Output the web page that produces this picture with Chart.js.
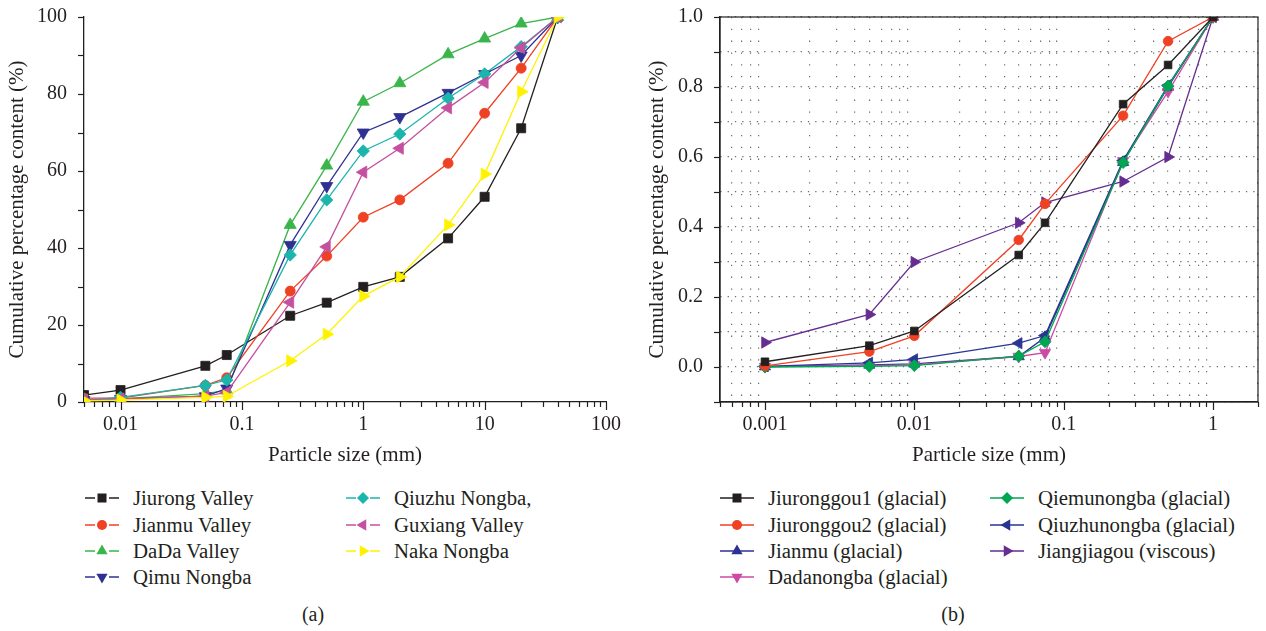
<!DOCTYPE html>
<html><head><meta charset="utf-8">
<script src="https://cdn.jsdelivr.net/npm/chart.js@4"></script>
<style>
body{margin:0;background:#fff;width:1266px;height:631px;position:relative;overflow:hidden;font-family:"Liberation Serif",serif;color:#231f20}
canvas{position:absolute;top:0}
#c1{left:0}
#c2{left:640px}
.leg{position:absolute;font-size:20.8px}
.item{position:absolute;height:26px;display:flex;align-items:center;white-space:nowrap}
.item svg{position:absolute;top:6px}
.item span{position:absolute;top:0;line-height:26px}
.cap{position:absolute;font-size:20px;transform:translate(-50%,-50%)}
</style></head>
<body>
<canvas id="c1" width="640" height="470"></canvas>
<canvas id="c2" width="626" height="470"></canvas>
<div id="legA"></div>
<div id="legB"></div>
<div class="cap" style="left:313px;top:614px">(a)</div>
<div class="cap" style="left:953px;top:614px">(b)</div>
<script>
// ---------- data (a) ----------
const sizesA = [0.005, 0.01, 0.05, 0.075, 0.25, 0.5, 1, 2, 5, 10, 20, 40];
const jiurongValley = [1.8, 3.1, 9.4, 12.2, 22.4, 25.8, 29.9, 32.5, 42.5, 53.3, 71.1, 100];
const jianmuValley  = [1.0, 1.0, 4.3, 6.3, 28.8, 37.9, 48.0, 52.5, 62.0, 75.0, 86.7, 100];
const dadaValley    = [0.5, 0.8, 2.2, 3.0, 46.0, 61.4, 78.0, 82.8, 90.3, 94.4, 98.3, 100];
const qimuNongba    = [0.5, 0.8, 1.5, 3.5, 40.8, 56.1, 70.0, 74.0, 80.3, 85.2, 90.0, 100];
const qiuzhuNongba  = [0.5, 1.2, 4.3, 5.7, 38.2, 52.5, 65.2, 69.6, 78.9, 85.2, 92.3, 100];
const guxiangValley = [0.5, 0.8, 1.5, 2.5, 25.9, 40.3, 59.7, 65.9, 76.4, 83.0, 92.0, 100];
const nakaNongba    = [0.3, 0.5, 1.2, 1.5, 10.7, 17.6, 27.5, 32.5, 46.0, 59.2, 80.6, 100];
const namesA = ["Jiurong Valley", "Jianmu Valley", "DaDa Valley", "Qimu Nongba", "Qiuzhu Nongba,", "Guxiang Valley", "Naka Nongba"];
const xMajorA = [0.01, 0.1, 1, 10, 100];
const xLabelsA = ["0.01", "0.1", "1", "10", "100"];
const yLabelsA = ["0", "20", "40", "60", "80", "100"];

// ---------- data (b) ----------
const sizesB = [0.001, 0.005, 0.01, 0.05, 0.075, 0.25, 0.5, 1];
const jiuronggou1  = [0.015, 0.061, 0.103, 0.320, 0.412, 0.751, 0.863, 1.0];
const jiuronggou2  = [0.003, 0.044, 0.089, 0.363, 0.466, 0.718, 0.931, 1.0];
const jianmuGlac   = [0.001, 0.006, 0.009, 0.030, 0.085, 0.585, 0.800, 1.0];
const dadanongba   = [0.001, 0.004, 0.006, 0.030, 0.041, 0.589, 0.787, 1.0];
const qiemunongba  = [0.000, 0.002, 0.004, 0.031, 0.072, 0.584, 0.803, 1.0];
const qiuzhunongba = [0.002, 0.012, 0.022, 0.068, 0.090, 0.590, 0.805, 1.0];
const jiangjiagou  = [0.070, 0.150, 0.300, 0.412, 0.470, 0.530, 0.600, 1.0];
const namesB = ["Jiuronggou1 (glacial)", "Jiuronggou2 (glacial)", "Jianmu (glacial)", "Dadanongba (glacial)", "Qiemunongba (glacial)", "Qiuzhunongba (glacial)", "Jiangjiagou (viscous)"];
const xMajorB = [0.001, 0.01, 0.1, 1];
const xLabelsB = ["0.001", "0.01", "0.1", "1"];
const yLabelsB = ["0.0", "0.2", "0.4", "0.6", "0.8", "1.0"];

const INK = "#231f20";
const FONT = "'Liberation Serif', serif";

function logTicks(min, max) {
  const out = [];
  for (let e = -4; e <= 2; e++) for (let m = 1; m <= 9; m++) {
    const v = parseFloat((m * Math.pow(10, e)).toPrecision(6));
    if (v >= min * 0.999999 && v <= max * 1.000001) out.push({value: v, major: m === 1});
  }
  return out;
}
function findLabel(v, majors, labels) {
  const i = majors.findIndex(m => Math.abs(m - v) < m * 1e-6);
  return i >= 0 ? labels[i] : "";
}

function ds(label, xs, ys, color, style, rot, r, idx, n) {
  return {label, data: xs.map((x, i) => ({x, y: ys[i]})), borderColor: color, backgroundColor: color,
    pointStyle: style, pointRotation: rot, pointRadius: r, pointBorderWidth: 0.8, pointBorderColor: color,
    borderWidth: 1.3, tension: 0, order: n - idx};
}

const tickPlugin = {
  id: "ticksDraw",
  afterDraw(chart, args, opts) {
    const ctx = chart.ctx, xs = chart.scales.x, ys = chart.scales.y, ca = chart.chartArea;
    ctx.save();
    ctx.strokeStyle = INK; ctx.lineWidth = 1.2;
    if (opts.box) ctx.strokeRect(ca.left, ca.top, ca.right - ca.left, ca.bottom - ca.top);
    xs.ticks.forEach(t => {
      const px = Math.round(xs.getPixelForValue(t.value)) + 0.5;
      ctx.beginPath(); ctx.moveTo(px, ca.bottom); ctx.lineTo(px, ca.bottom + (t.major ? 8 : 5)); ctx.stroke();
    });
    ys.ticks.forEach(t => {
      const py = Math.round(ys.getPixelForValue(t.value)) + 0.5;
      ctx.beginPath(); ctx.moveTo(ca.left, py); ctx.lineTo(ca.left - 6, py); ctx.stroke();
    });
    ctx.restore();
  }
};
function fitX(s) { s.height = 68; s.paddingLeft = 0; s.paddingRight = 0; }
function fitY(w) { return s => { s.width = w; s.paddingTop = 0; s.paddingBottom = 0; }; }

// ---------- chart (a) ----------
const colA = ["#231f20", "#ef4123", "#39b54a", "#2e3192", "#1bb5ac", "#c4509f", "#fff200"];
const styA = [["rect", 0, 6.4], ["circle", 0, 5], ["triangle", 0, 7], ["triangle", 180, 7], ["rectRot", 0, 6.2], ["triangle", 270, 7], ["triangle", 90, 7]];
const serA = [jiurongValley, jianmuValley, dadaValley, qimuNongba, qiuzhuNongba, guxiangValley, nakaNongba];

new Chart(document.getElementById("c1"), {
  type: "line",
  data: {datasets: serA.map((s, i) => ds(namesA[i], sizesA, s, colA[i], styA[i][0], styA[i][1], styA[i][2], i, serA.length))},
  options: {
    responsive: false, animation: false, events: [],
    layout: {padding: {left: 0, top: 17, right: 34, bottom: 0}},
    plugins: {legend: {display: false}, tooltip: {enabled: false}, ticksDraw: {box: false}},
    scales: {
      x: {type: "logarithmic", min: 0.005, max: 100,
        afterBuildTicks: s => { s.ticks = logTicks(0.005, 100); },
        afterFit: fitX,
        grid: {display: true, drawOnChartArea: false, drawTicks: false},
        border: {display: true, color: INK, width: 1.3},
        ticks: {autoSkip: false, maxRotation: 0, padding: 11, color: INK, font: {family: FONT, size: 20},
          callback: v => findLabel(v, xMajorA, xLabelsA)},
        title: {display: true, text: "Particle size (mm)", color: INK, font: {family: FONT, size: 21}, padding: {top: 0, bottom: 2}}
      },
      y: {type: "linear", min: 0, max: 100,
        afterBuildTicks: s => { const t = []; for (let v = 0; v <= 100; v += 10) t.push({value: v, major: v % 20 === 0}); s.ticks = t; },
        afterFit: fitY(84),
        grid: {display: true, drawOnChartArea: false, drawTicks: false},
        border: {display: true, color: INK, width: 1.3},
        ticks: {autoSkip: false, padding: 17, color: INK, font: {family: FONT, size: 20},
          callback: v => (v % 20 === 0 ? yLabelsA[v / 20] : "")},
        title: {display: true, text: "Cumulative percentage content (%)", color: INK, font: {family: FONT, size: 21}, padding: {top: 5, bottom: 0}}
      }
    }
  },
  plugins: [tickPlugin]
});

// ---------- chart (b) ----------
const colB = ["#231f20", "#ef4123", "#2e3192", "#cc4aa5", "#00a651", "#283593", "#662d91"];
const styB = [["rect", 0, 5.4], ["circle", 0, 4.8], ["triangle", 0, 6.5], ["triangle", 180, 6.5], ["rectRot", 0, 6], ["triangle", 270, 6.5], ["triangle", 90, 6.5]];
const serB = [jiuronggou1, jiuronggou2, jianmuGlac, dadanongba, qiemunongba, qiuzhunongba, jiangjiagou];
const drawOrderB = [6, 5, 1, 2, 4, 3, 0];

new Chart(document.getElementById("c2"), {
  type: "line",
  data: {datasets: serB.map((s, i) => ds(namesB[i], sizesB, s, colB[i], styB[i][0], styB[i][1], styB[i][2], drawOrderB[i], serB.length))},
  options: {
    responsive: false, animation: false, events: [],
    layout: {padding: {left: 0, top: 17, right: 8, bottom: 0}},
    plugins: {legend: {display: false}, tooltip: {enabled: false}, ticksDraw: {box: true}},
    scales: {
      x: {type: "logarithmic", min: 0.0005, max: 2,
        afterBuildTicks: s => { s.ticks = logTicks(0.0005, 2); },
        afterFit: fitX,
        grid: {display: true, drawOnChartArea: true, drawTicks: false, lineWidth: 1.2,
          color: c => (c.tick && !c.tick.major ? "#6d6e71" : "rgba(0,0,0,0)")},
        border: {display: true, color: INK, width: 1.3, dash: [1.3, 10.5]},
        ticks: {autoSkip: false, maxRotation: 0, padding: 11, color: INK, font: {family: FONT, size: 20},
          callback: v => findLabel(v, xMajorB, xLabelsB)},
        title: {display: true, text: "Particle size (mm)", color: INK, font: {family: FONT, size: 21}, padding: {top: 0, bottom: 2}}
      },
      y: {type: "linear", min: -0.1, max: 1.0,
        afterBuildTicks: s => { const t = []; for (let k = -1; k <= 10; k++) t.push({value: k / 10, major: k >= 0 && k % 2 === 0}); s.ticks = t; },
        afterFit: fitY(80),
        grid: {display: true, drawOnChartArea: true, drawTicks: false, lineWidth: 1.2, color: "#6d6e71"},
        border: {display: true, color: INK, width: 1.3, dash: [1.3, 6]},
        ticks: {autoSkip: false, padding: 17, color: INK, font: {family: FONT, size: 20},
          callback: v => { const k = Math.round(v * 10); return (k >= 0 && k % 2 === 0) ? yLabelsB[k / 2] : ""; }},
        title: {display: true, text: "Cumulative percentage content (%)", color: INK, font: {family: FONT, size: 21}, padding: {top: 5, bottom: 0}}
      }
    }
  },
  plugins: [tickPlugin]
});

// ---------- HTML legends ----------
function markerSvg(style, rot, color) {
  const c = 17, m = 7;
  if (style === "rect") return `<rect x="${c - 4.5}" y="${m - 4.5}" width="9" height="9" fill="${color}"/>`;
  if (style === "circle") return `<circle cx="${c}" cy="${m}" r="5" fill="${color}"/>`;
  if (style === "rectRot") return `<polygon points="${c},${m - 6} ${c + 6},${m} ${c},${m + 6} ${c - 6},${m}" fill="${color}"/>`;
  const pts = [0, 120, 240].map(a => {
    const rad = (a + rot) * Math.PI / 180;
    return `${(c + Math.sin(rad) * 6.5).toFixed(2)},${(m - Math.cos(rad) * 6.5).toFixed(2)}`;
  }).join(" ");
  return `<polygon points="${pts}" fill="${color}"/>`;
}
function buildLegend(el, names, cols, stys, colX, rows, gapped, svgW, textOff) {
  let html = "";
  names.forEach((nm, i) => {
    const col = i < 4 ? 0 : 1, row = i < 4 ? i : i - 4;
    const line = gapped
      ? `<line x1="0" y1="7" x2="10" y2="7" stroke="${cols[i]}" stroke-width="1.5"/><line x1="24" y1="7" x2="34" y2="7" stroke="${cols[i]}" stroke-width="1.5"/>`
      : `<line x1="0" y1="7" x2="34" y2="7" stroke="${cols[i]}" stroke-width="1.5"/>`;
    html += `<div class="item leg" style="left:${colX[col]}px;top:${rows[row] - 13}px">` +
      `<svg width="${svgW}" height="14" style="left:0">${line}${markerSvg(stys[i][0], stys[i][1], cols[i])}</svg>` +
      `<span style="left:${textOff}px">${nm}</span></div>`;
  });
  el.innerHTML = html;
}
const legRows = [498, 525, 551, 577];
buildLegend(document.getElementById("legA"), namesA, colA, styA, [85, 346], legRows, true, 34, 48);
buildLegend(document.getElementById("legB"), namesB, colB, styB, [720, 990], legRows, false, 34, 48);
</script>
</body></html>
